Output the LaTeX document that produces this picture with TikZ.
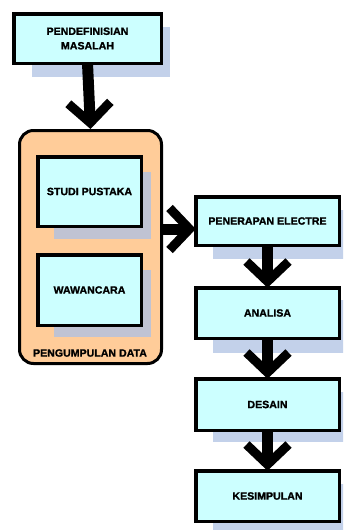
\documentclass[tikz,border=0pt]{standalone}
\usepackage{fontspec}
\setmainfont{Liberation Sans}[BoldFeatures={FakeBold=1.3}]
\usetikzlibrary{calc,arrows.meta}
\definecolor{boxfill}{HTML}{CCFFFF}
\definecolor{shblue}{HTML}{C3D1EA}
\definecolor{shgray}{HTML}{C0C3D3}
\definecolor{peach}{HTML}{FFCC99}
\tikzset{
  stepbox/.style={draw=black, line width=3.5pt, fill=boxfill, rectangle, inner sep=0pt, outer sep=0pt,
    align=center, font=\bfseries\fontsize{10.6}{14.5}\selectfont},
  bigarrow/.style={line width=11pt, -{Straight Barb[length=20pt,width=42pt,line width=9pt]}},
  lbl/.style={font=\bfseries\fontsize{10.6}{14.5}\selectfont, inner sep=0pt}
}
\begin{document}
\begin{tikzpicture}[x=1pt,y=-1pt]
\useasboundingbox (0,0) rectangle (343,530);
\begin{scope}
\clip (0,0) rectangle (343,530);
% shadow and top box
\coordinate (c1) at (87.5,38.5);
\fill[shblue] ($(c1)+(-55.5,-11.5)$) rectangle ($(c1)+(82.5,38.5)$);
\node[stepbox, minimum width=147.5pt, minimum height=49.5pt] (b1) at (c1) {PENDEFINISIAN\\MASALAH};

% container
\node[draw=black, line width=3pt, fill=peach, rounded corners=14pt, minimum width=142pt, minimum height=233pt, inner sep=0pt] (cont) at (90.5,247) {};
\node[lbl] (cl) at (90,353) {PENGUMPULAN DATA};

\fill[shgray] (54,172) rectangle (151,239);
\fill[shgray] (54,270) rectangle (151,337);
\node[stepbox, minimum width=103.5pt, minimum height=69.5pt] (sp) at (89.5,191.5) {STUDI PUSTAKA};
\node[stepbox, minimum width=103.5pt, minimum height=70.5pt] (ww) at (89.5,290) {WAWANCARA};

% right column
\fill[shblue] (213,210) rectangle (348,259);
\fill[shblue] (213,300) rectangle (348,353);
\fill[shblue] (213,392) rectangle (348,442);
\fill[shblue] (213,484) rectangle (348,535);
\node[stepbox, minimum width=143.5pt, minimum height=48.5pt] (pe) at (267.5,221) {PENERAPAN ELECTRE};
\node[stepbox, minimum width=143.5pt, minimum height=50.5pt] (an) at (267.5,313) {ANALISA};
\node[stepbox, minimum width=143.5pt, minimum height=51.5pt] (de) at (267.5,404.5) {DESAIN};
\node[stepbox, minimum width=143.5pt, minimum height=50.5pt] (ks) at (267.5,496) {KESIMPULAN};

% arrows
\coordinate (ar) at (180,229);
\draw[bigarrow] (b1.south) -- (cont.north);
\draw[bigarrow] (cont.east |- ar) -- (pe.west |- ar);
\draw[bigarrow] (pe.south) -- (an.north);
\draw[bigarrow] (an.south) -- (de.north);
\draw[bigarrow] (de.south) -- (ks.north);
\end{scope}
\end{tikzpicture}
\end{document}
